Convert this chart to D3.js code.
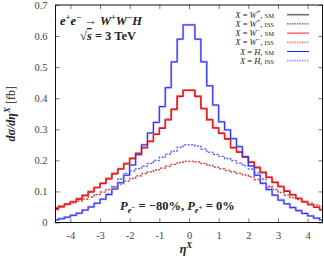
<!DOCTYPE html>
<html lang="en">
<head>
<meta charset="UTF-8">
<title>eta distributions</title>
<script src="https://d3js.org/d3.v7.min.js"></script>
<style>
  body { margin: 0; background: #fff; }
  svg text { font-family: 'Liberation Serif', 'DejaVu Serif', serif; fill: #222; }
</style>
</head>
<body>
<div id="chart"></div>
<script>
// bin edges in eta (0.2 wide, clipped to the frame)
const binEdges = [-4.6, -4.4, -4.2, -4.0, -3.8, -3.6, -3.4, -3.2, -3.0, -2.8, -2.6, -2.4,
  -2.2, -2.0, -1.8, -1.6, -1.4, -1.2, -1.0, -0.8, -0.6, -0.4, -0.2, 0,
  0.2, 0.4, 0.6, 0.8, 1.0, 1.2, 1.4, 1.6, 1.8, 2.0, 2.2, 2.4, 2.6, 2.8,
  3.0, 3.2, 3.4, 3.6, 3.8, 4.0, 4.2, 4.4, 4.6];

// peaked H curve (blue)
const hPeak = [0.008, 0.012, 0.017, 0.023, 0.030, 0.040, 0.050, 0.062, 0.075, 0.090, 0.108, 0.128,
  0.152, 0.185, 0.218, 0.250, 0.288, 0.322, 0.373, 0.434, 0.517, 0.590, 0.636,
  0.636, 0.590, 0.517, 0.440, 0.378, 0.324, 0.298, 0.270, 0.244, 0.212, 0.182, 0.152,
  0.126, 0.106, 0.088, 0.072, 0.060, 0.048, 0.038, 0.029, 0.021, 0.014, 0.008];

// peaked W curves (red and dark red)
const wPeak = [0.042, 0.050, 0.058, 0.067, 0.077, 0.088, 0.100, 0.113, 0.127, 0.142, 0.158, 0.173,
  0.190, 0.207, 0.223, 0.242, 0.262, 0.285, 0.305, 0.332, 0.365, 0.407, 0.426,
  0.426, 0.407, 0.367, 0.330, 0.305, 0.288, 0.270, 0.240, 0.228, 0.210, 0.195, 0.178,
  0.162, 0.146, 0.130, 0.116, 0.102, 0.090, 0.078, 0.067, 0.058, 0.050, 0.042];
const wPeakDark = [0.045, 0.052, 0.060, 0.066, 0.075, 0.086, 0.098, 0.112, 0.125, 0.140, 0.156, 0.172,
  0.188, 0.205, 0.222, 0.240, 0.260, 0.283, 0.303, 0.330, 0.363, 0.405, 0.425,
  0.425, 0.405, 0.366, 0.332, 0.304, 0.286, 0.268, 0.242, 0.226, 0.211, 0.193, 0.176,
  0.160, 0.145, 0.128, 0.115, 0.100, 0.089, 0.077, 0.066, 0.057, 0.049, 0.040];

// flat H curve (blue dashed)
const hFlat = [0.009, 0.013, 0.018, 0.024, 0.031, 0.041, 0.051, 0.063, 0.077, 0.093, 0.115, 0.140,
  0.158, 0.166, 0.173, 0.181, 0.190, 0.200, 0.210, 0.220, 0.230, 0.242, 0.250,
  0.250, 0.246, 0.236, 0.226, 0.219, 0.213, 0.206, 0.199, 0.191, 0.183, 0.172, 0.160,
  0.140, 0.112, 0.090, 0.074, 0.060, 0.049, 0.039, 0.030, 0.022, 0.015, 0.009];

// flat W curve (dark red / pale red dashed)
const wFlat = [0.048, 0.053, 0.058, 0.063, 0.069, 0.075, 0.082, 0.090, 0.098, 0.106, 0.115, 0.124,
  0.133, 0.142, 0.150, 0.157, 0.163, 0.169, 0.175, 0.181, 0.187, 0.193, 0.197,
  0.197, 0.195, 0.190, 0.184, 0.178, 0.173, 0.168, 0.163, 0.158, 0.153, 0.147, 0.138,
  0.128, 0.117, 0.106, 0.097, 0.088, 0.080, 0.074, 0.068, 0.062, 0.057, 0.052];

const xTicks = [-4, -3, -2, -1, 0, 1, 2, 3, 4];
const yTicks = [0, 0.1, 0.2, 0.3, 0.4, 0.5, 0.6, 0.7];

const legendItems = [
  {w: "W", sup: "+", tag: "SM",  color: "#707070", width: 1.6, dash: null},
  {w: "W", sup: "+", tag: "ISS", color: "#000000", width: 0.8, dash: "1.5,1"},
  {w: "W", sup: "\u2212", tag: "SM",  color: "#ff2020", width: 1, dash: null},
  {w: "W", sup: "\u2212", tag: "ISS", color: "#f08888", width: 1.8, dash: "1.5,1"},
  {w: "H", sup: "", tag: "SM",  color: "#2020ff", width: 1, dash: null},
  {w: "H", sup: "", tag: "ISS", color: "#9a9aff", width: 1.8, dash: "1.5,1"}
];

const width = 324, height = 259;
const svg = d3.select("#chart").append("svg")
  .attr("width", width).attr("height", height);

const x = d3.scaleLinear().domain([-4.5, 4.5]).range([55.5, 322.5]);
const y = d3.scaleLinear().domain([0, 0.7]).range([222.5, 5]);

svg.append("clipPath").attr("id", "plot-clip")
  .append("rect")
  .attr("x", x(-4.5)).attr("y", y(0.7))
  .attr("width", x(4.5) - x(-4.5)).attr("height", y(0) - y(0.7));

// histogram as step line
function steps(values) {
  const pts = values.map((v, i) => [binEdges[i], v]);
  pts.push([binEdges[binEdges.length - 1], values[values.length - 1]]);
  return pts;
}
const line = d3.line()
  .x(d => x(d[0]))
  .y(d => y(d[1]))
  .curve(d3.curveStepAfter);

const curves = [
  {data: hFlat, color: "#b4b4ff", width: 1.8, dash: "2,1.5"},
  {data: hFlat, color: "#3a3aff", width: 0.8, dash: "2,1.5"},
  {data: wFlat, color: "#f4a8a8", width: 1.8, dash: "2,1.5"},
  {data: wFlat, color: "#b01818", width: 0.8, dash: "2,1.5"},
  {data: hPeak, color: "#b0b0ff", width: 2.2, dash: null},
  {data: wPeak, color: "#f29a9a", width: 2.2, dash: null},
  {data: wPeakDark, color: "#a80000", width: 1, dash: null},
  {data: wPeak, color: "#ff2020", width: 0.9, dash: null},
  {data: hPeak, color: "#2a2aff", width: 1, dash: null}
];

const plot = svg.append("g").attr("clip-path", "url(#plot-clip)");
plot.selectAll("path.curve")
  .data(curves)
  .join("path")
  .attr("class", "curve")
  .attr("fill", "none")
  .attr("stroke", d => d.color)
  .attr("stroke-width", d => d.width)
  .attr("stroke-dasharray", d => d.dash)
  .attr("d", d => line(steps(d.data)));

// axes with inward ticks on all sides
const tickLen = 4;
svg.append("g")
  .attr("transform", `translate(0,${y(0)})`)
  .call(d3.axisBottom(x).tickValues(xTicks).tickSizeInner(-tickLen).tickSizeOuter(0).tickPadding(9)
    .tickFormat(d => d < 0 ? "-" + Math.abs(d) : d))
  .call(g => g.select(".domain").remove());
svg.append("g")
  .attr("transform", `translate(0,${y(0.7)})`)
  .call(d3.axisTop(x).tickValues(xTicks).tickSizeInner(-tickLen).tickSizeOuter(0).tickFormat(""))
  .call(g => g.select(".domain").remove());
svg.append("g")
  .attr("transform", `translate(${x(-4.5)},0)`)
  .call(d3.axisLeft(y).tickValues(yTicks).tickSizeInner(-tickLen).tickSizeOuter(0).tickPadding(8)
    .tickFormat(d => d === 0 ? "0" : d3.format(".1f")(d)))
  .call(g => g.select(".domain").remove());
svg.append("g")
  .attr("transform", `translate(${x(4.5)},0)`)
  .call(d3.axisRight(y).tickValues(yTicks).tickSizeInner(-tickLen).tickSizeOuter(0).tickFormat(""))
  .call(g => g.select(".domain").remove());

svg.selectAll(".tick line").attr("stroke", "#555").attr("stroke-width", 0.8);
svg.selectAll(".tick text")
  .attr("font-size", 10.5)
  .style("fill", "#444");

svg.append("rect")
  .attr("x", x(-4.5)).attr("y", y(0.7))
  .attr("width", x(4.5) - x(-4.5)).attr("height", y(0) - y(0.7))
  .attr("fill", "none").attr("stroke", "#111").attr("stroke-width", 1);

// axis titles
const xTitle = svg.append("text")
  .attr("x", x(-0.1)).attr("y", 253)
  .attr("text-anchor", "middle")
  .attr("font-size", 12)
  .attr("font-style", "italic")
  .attr("font-weight", "bold");
xTitle.append("tspan").text("\u03b7");
xTitle.append("tspan").attr("dy", -5).attr("font-size", 9).text("X");

const yTitle = svg.append("text")
  .attr("transform", `translate(15,${(y(0) + y(0.7)) / 2}) rotate(-90)`)
  .attr("text-anchor", "middle")
  .attr("font-size", 12)
  .attr("font-style", "italic")
  .attr("font-weight", "bold");
yTitle.append("tspan").text("d\u03c3/d\u03b7");
yTitle.append("tspan").attr("dy", -5).attr("font-size", 9).text("X");
yTitle.append("tspan").attr("dy", 5).attr("font-style", "normal").attr("font-weight", "normal").text(" [fb]");

// process label
const proc = svg.append("text")
  .attr("x", 60).attr("y", 25)
  .attr("font-size", 12.5)
  .attr("font-style", "italic")
  .attr("font-weight", "bold");
proc.append("tspan").text("e");
proc.append("tspan").attr("dy", -5).attr("font-size", 8.5).text("+");
proc.append("tspan").attr("dy", 5).text("e");
proc.append("tspan").attr("dy", -5).attr("font-size", 8.5).text("\u2212");
proc.append("tspan").attr("dy", 5).attr("font-style", "normal").text(" \u2192 ");
proc.append("tspan").text("W");
proc.append("tspan").attr("dy", -5).attr("font-size", 8.5).text("+");
proc.append("tspan").attr("dy", 5).text("W");
proc.append("tspan").attr("dy", -5).attr("font-size", 8.5).text("\u2212");
proc.append("tspan").attr("dy", 5).text("H");

const sqrtS = svg.append("text")
  .attr("x", 80).attr("y", 40)
  .attr("font-size", 12.5)
  .attr("font-weight", "bold");
sqrtS.append("tspan").text("\u221a");
sqrtS.append("tspan").attr("font-style", "italic").style("text-decoration", "overline").text("s");
sqrtS.append("tspan").text(" = 3 TeV");

const pol = svg.append("text")
  .attr("x", 120).attr("y", 210)
  .attr("font-size", 12.5)
  .attr("font-weight", "bold");
pol.append("tspan").attr("font-style", "italic").text("P");
pol.append("tspan").attr("dy", 3).attr("font-size", 8.5).attr("font-style", "italic").text("e");
pol.append("tspan").attr("dy", -3).attr("font-size", 7).text("\u2212");
pol.append("tspan").attr("dy", 0).text(" = \u221280%, ");
pol.append("tspan").attr("font-style", "italic").text("P");
pol.append("tspan").attr("dy", 3).attr("font-size", 8.5).attr("font-style", "italic").text("e");
pol.append("tspan").attr("dy", -3).attr("font-size", 7).text("+");
pol.append("tspan").attr("dy", 0).text(" = 0%");

// legend
const legend = svg.append("g");
const rowY = d => 14.7 + d * 9.2;
legendItems.forEach((it, i) => {
  const t = legend.append("text")
    .attr("x", 274).attr("y", rowY(i) + 3)
    .attr("text-anchor", "end")
    .attr("font-size", 8.5);
  t.append("tspan").attr("font-style", "italic").text("X");
  t.append("tspan").text(" = ");
  t.append("tspan").attr("font-style", "italic").text(it.w);
  if (it.sup) t.append("tspan").attr("dy", -3.5).attr("font-size", 6.5).text(it.sup);
  t.append("tspan").attr("dy", it.sup ? 3.5 : 0).text(", ");
  t.append("tspan").attr("font-size", 6.5).text(it.tag);
  legend.append("line")
    .attr("x1", 287).attr("x2", 309)
    .attr("y1", rowY(i)).attr("y2", rowY(i))
    .attr("stroke", it.color)
    .attr("stroke-width", it.width)
    .attr("stroke-dasharray", it.dash);
});
</script>
</body>
</html>
